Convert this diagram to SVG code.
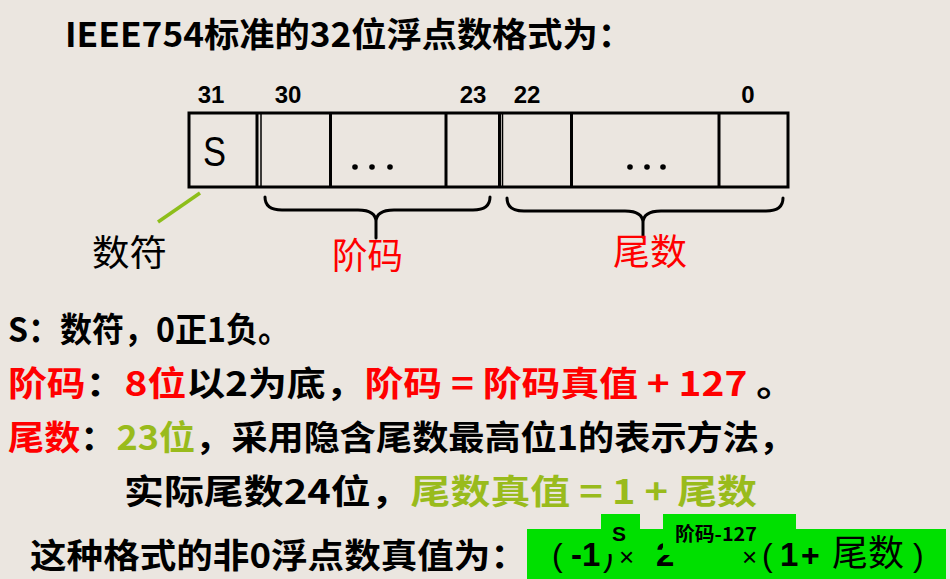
<svg xmlns="http://www.w3.org/2000/svg" width="950" height="579" viewBox="0 0 950 579">
<style>
.t{font-family:"Noto Sans CJK SC","Liberation Sans",sans-serif;fill:#000}
.l{font-family:"Liberation Sans","Noto Sans CJK SC",sans-serif;fill:#000}
.b{font-weight:bold}
.n{font-weight:normal}
.red{fill:#FF0000}
.grn{fill:#99BB1C}
.cjk{font-family:"Noto Sans CJK SC",sans-serif}
.cell{fill:none;stroke:#000;stroke-width:3}
.brace{fill:none;stroke:#000;stroke-width:3;stroke-linecap:round}
.dot{fill:#000}
.gbox{fill:#00E000}
</style>
<rect width="950" height="579" fill="#EBE6E0"/>

<g id="title">
<text class="t b" x="65" y="47" font-size="34" textLength="568" lengthAdjust="spacingAndGlyphs">IEEE754标准的32位浮点数格式为：</text>
</g>

<g id="bit-labels" class="l b" font-size="24" text-anchor="middle">
<text x="211" y="103">31</text>
<text x="288" y="103">30</text>
<text x="473" y="103">23</text>
<text x="527" y="103">22</text>
<text x="748" y="103">0</text>
</g>

<g id="register">
<rect class="cell" x="189" y="113" width="599" height="74"/>
<line class="cell" x1="257" y1="113" x2="257" y2="187"/>
<line x1="261" y1="113" x2="261" y2="187" stroke="#000" stroke-width="1.5"/>
<line class="cell" x1="330.5" y1="113" x2="330.5" y2="187"/>
<line class="cell" x1="446" y1="113" x2="446" y2="187"/>
<line class="cell" x1="499.5" y1="113" x2="499.5" y2="187"/>
<line x1="502.5" y1="113" x2="502.5" y2="187" stroke="#000" stroke-width="1.5"/>
<line class="cell" x1="571.5" y1="113" x2="571.5" y2="187"/>
<line class="cell" x1="719" y1="113" x2="719" y2="187"/>
<text class="l" x="203" y="166" font-size="42" textLength="23" lengthAdjust="spacingAndGlyphs">S</text>
<circle class="dot" cx="355" cy="167" r="2.8"/>
<circle class="dot" cx="372" cy="167" r="2.8"/>
<circle class="dot" cx="390" cy="167" r="2.8"/>
<circle class="dot" cx="630" cy="167" r="2.8"/>
<circle class="dot" cx="647" cy="167" r="2.8"/>
<circle class="dot" cx="663" cy="167" r="2.8"/>
</g>

<g id="connectors">
<line x1="200" y1="193" x2="158" y2="222" stroke="#8DBE1A" stroke-width="3.5"/>
<path class="brace" d="M265,197 Q265,210 282,210 H358 Q376,210 376,222 V238 M376,222 Q376,210 394,210 H473 Q490,210 490,197"/>
<path class="brace" d="M507,198 Q507,211 524,211 H625 Q643,211 643,223 V237 M643,223 Q643,211 661,211 H766 Q783,211 783,198"/>
</g>

<g id="sign-label">
<text class="t" x="92" y="266" font-size="36" textLength="75" lengthAdjust="spacingAndGlyphs">数符</text>
</g>
<g id="exponent-label">
<text class="t red" x="332" y="269" font-size="36" textLength="71" lengthAdjust="spacingAndGlyphs">阶码</text>
</g>
<g id="mantissa-label">
<text class="t red" x="613" y="265" font-size="36" textLength="74" lengthAdjust="spacingAndGlyphs">尾数</text>
</g>

<g id="notes" class="t b" font-size="34">
<text x="8" y="342" textLength="282" lengthAdjust="spacingAndGlyphs">S：数符，0正1负。</text>
<text x="8" y="396" textLength="787" lengthAdjust="spacingAndGlyphs"><tspan class="red">阶码</tspan><tspan>：</tspan><tspan class="red">8位</tspan><tspan>以2为底，</tspan><tspan class="red">阶码 = 阶码真值 + 127</tspan><tspan> 。</tspan></text>
<text x="8" y="450" textLength="787" lengthAdjust="spacingAndGlyphs"><tspan class="red">尾数</tspan><tspan>：</tspan><tspan class="grn">23位</tspan><tspan>，采用隐含尾数最高位1的表示方法，</tspan></text>
<text x="124" y="504" textLength="633" lengthAdjust="spacingAndGlyphs"><tspan>实际尾数24位，</tspan><tspan class="grn">尾数真值 = 1 + 尾数</tspan></text>
<text x="30" y="568" textLength="497" lengthAdjust="spacingAndGlyphs">这种格式的非0浮点数真值为：</text>
</g>

<g id="formula">
<rect class="gbox" x="527" y="529" width="419" height="50"/>
<text class="l" y="566" font-size="32"><tspan x="552">(</tspan><tspan class="b" x="571" font-size="33">-1</tspan><tspan x="603">)</tspan></text>
<rect class="gbox" x="601" y="514" width="39" height="40"/>
<text class="l b" x="612" y="541" font-size="21">S</text>
<text class="l" y="566" font-size="26"><tspan x="619">×</tspan><tspan class="b" x="656" font-size="33">2</tspan></text>
<rect class="gbox" x="663" y="514" width="133" height="41"/>
<text class="t b" x="675" y="541" font-size="19" textLength="82" lengthAdjust="spacingAndGlyphs">阶码-127</text>
<text class="l" y="566" font-size="32"><tspan x="742" font-size="26">×</tspan><tspan x="762">(</tspan><tspan class="b" x="780" font-size="33">1</tspan><tspan class="b" x="801">+</tspan><tspan class="cjk" x="832" font-size="36">尾数</tspan><tspan x="913">)</tspan></text>
</g>
</svg>
